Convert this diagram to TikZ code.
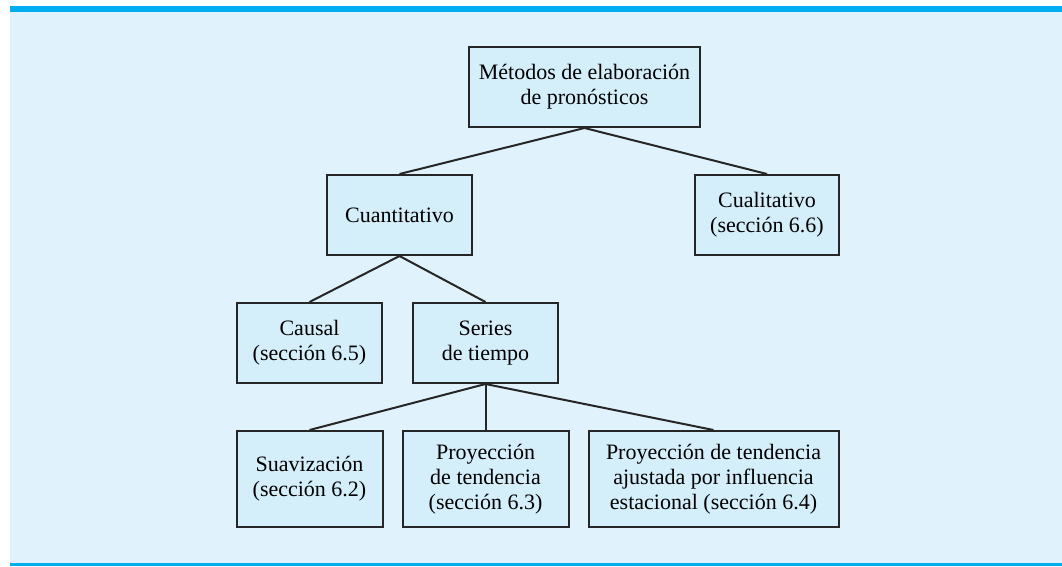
\documentclass[tikz,border=0pt]{standalone}
\usepackage{fontspec}
\setmainfont{Liberation Serif}
\usepackage{tikz}
\usetikzlibrary{shapes.geometric, arrows}
\definecolor{panelblue}{RGB}{224,242,252}
\definecolor{boxblue}{RGB}{212,238,250}
\definecolor{barblue}{RGB}{0,174,239}
\tikzstyle{method} = [rectangle, minimum height=80pt, text centered, align=center, draw=black!85, line width=2pt, fill=boxblue, font=\fontsize{22}{25}\selectfont, inner sep=0pt]
\tikzstyle{leaf} = [method, minimum height=96pt]
\tikzstyle{branch} = [line width=2pt, draw=black!85]
\begin{document}
\begin{tikzpicture}[x=1pt, y=-1pt, node distance=128pt]
  \useasboundingbox (0,0) rectangle (1062,566);
  \fill [panelblue] (10,12) rectangle (1062,563);
  \fill [barblue] (10,6) rectangle (1062,12);
  \fill [barblue] (10,563) rectangle (1062,566);

  \node (metodos) [method, minimum width=231pt] at (584.5,87) {Métodos de elaboración\\de pronósticos};
  \node (cuanti) [method, minimum width=145pt, below of=metodos, xshift=-185pt] {Cuantitativo};
  \node (cuali) [method, minimum width=144pt, below of=metodos, xshift=182.5pt] {Cualitativo\\(sección 6.6)};
  \node (causal) [method, minimum width=145pt, below of=cuanti, xshift=-90pt] {Causal\\(sección 6.5)};
  \node (series) [method, minimum width=145pt, below of=cuanti, xshift=86pt] {Series\\de tiempo};
  \node (proy) [leaf, minimum width=166pt, below of=series, yshift=-8pt] {Proyección\\de tendencia\\(sección 6.3)};
  \node (suav) [leaf, minimum width=146pt, below of=causal, yshift=-8pt] {Suavización\\(sección 6.2)};
  \node (proyaj) [leaf, minimum width=250pt, right of=proy, xshift=100pt] {Proyección de tendencia\\ajustada por influencia\\estacional (sección 6.4)};

  \draw [branch] (metodos.south) -- (cuanti.north);
  \draw [branch] (metodos.south) -- (cuali.north);
  \draw [branch] (cuanti.south) -- (causal.north);
  \draw [branch] (cuanti.south) -- (series.north);
  \draw [branch] (series.south) -- (suav.north);
  \draw [branch] (series.south) -- (proy.north);
  \draw [branch] (series.south) -- (proyaj.north);
\end{tikzpicture}
\end{document}
